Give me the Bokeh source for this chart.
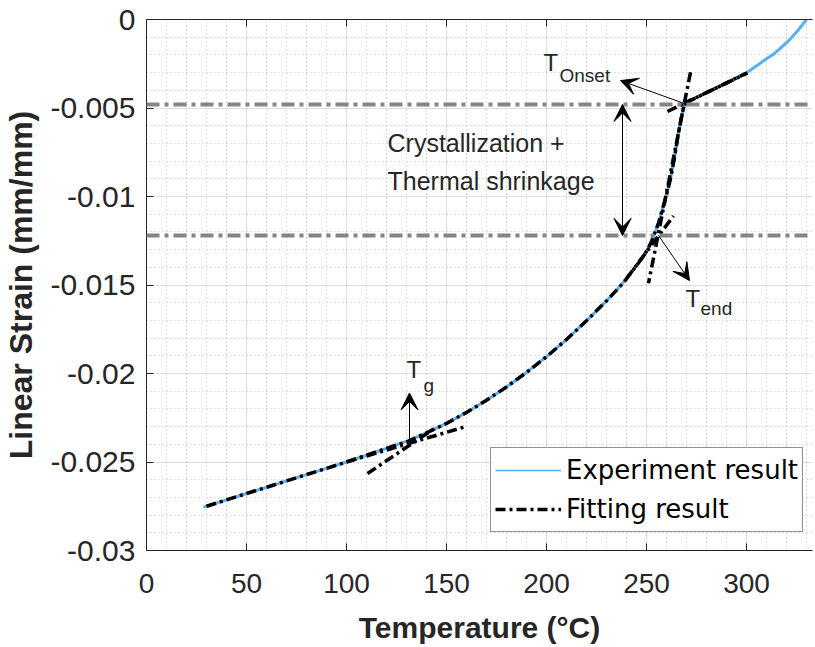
import numpy as np
from bokeh.plotting import figure
from bokeh.models import (Range1d, FixedTicker, LinearAxis, Arrow, VeeHead, Label,
                          Span, Legend, LegendItem)
from bokeh.embed import file_html
from bokeh.resources import INLINE

# ---------------- data ----------------
exp_T = [28.5, 40, 50, 60, 70, 80, 90, 100, 110, 120, 131, 140, 150, 160, 170, 180,
         190, 200, 210, 220, 230, 237, 240, 244, 248, 250.5, 252.5, 254, 256, 258,
         260, 262, 264, 266, 267.5, 268.7, 270, 272, 276, 280, 285, 290, 295, 300,
         306, 310, 314, 318, 322, 326, 330]
exp_S = [-0.02755, -0.02714, -0.02678, -0.02643, -0.02607, -0.02571, -0.02536,
         -0.0250, -0.02462, -0.02423, -0.02379, -0.02335, -0.02282, -0.02220,
         -0.02151, -0.02076, -0.01994, -0.01905, -0.01808, -0.01702, -0.0159,
         -0.01505, -0.01465, -0.01405, -0.01345, -0.0130, -0.01255, -0.0121,
         -0.0115, -0.0107, -0.0099, -0.0090, -0.0078, -0.0064, -0.0055, -0.00495,
         -0.00468, -0.00456, -0.00435, -0.00413, -0.00386, -0.00358, -0.0033,
         -0.00301, -0.00254, -0.00222, -0.00192, -0.00152, -0.00109, -0.00058, 0.0]

fit_T = [30, 40, 50, 60, 70, 80, 90, 100, 110, 120, 131, 140, 150, 160, 170, 180,
         190, 200, 210, 220, 230, 237, 240, 244, 248, 250.5, 252.5, 254, 256, 258,
         260, 262, 264, 266, 267.5, 268.7, 270, 272, 276, 280, 285, 290, 295, 300]
fit_S = [-0.0275, -0.02714, -0.02678, -0.02643, -0.02607, -0.02571, -0.02536,
         -0.0250, -0.02462, -0.02423, -0.02382, -0.02335, -0.02282, -0.02220,
         -0.02151, -0.02076, -0.01994, -0.01905, -0.01808, -0.01702, -0.0159,
         -0.01505, -0.01465, -0.01405, -0.01345, -0.0130, -0.01255, -0.0121,
         -0.0115, -0.0107, -0.0099, -0.0090, -0.0078, -0.0064, -0.0055, -0.0049,
         -0.00466, -0.00456, -0.00435, -0.00413, -0.00386, -0.00358, -0.0033,
         -0.00303]

# tangent lines of the fit
glassy_T = [100, 159.5]
glassy_S = [-0.0250, -0.0230]
rubbery_T = [110.5, 145]
rubbery_S = [-0.02565, -0.02303]
steep_T = [272, 251]
steep_S = [-0.00298, -0.0149]
onset_T = [260.5, 300.5]
onset_S = [-0.0052, -0.00302]
end_T = [240, 263.5]
end_S = [-0.01463, -0.0111]

onset_level = -0.0048
end_level = -0.0122

x_ticks = [0, 50, 100, 150, 200, 250, 300]
x_tick_labels = ["0", "50", "100", "150", "200", "250", "300"]
y_ticks = [0, -0.005, -0.01, -0.015, -0.02, -0.025, -0.03]
y_tick_labels = ["0", "-0.005", "-0.01", "-0.015", "-0.02", "-0.025", "-0.03"]

# ---------------- figure ----------------
FONT = "Liberation Sans"
AX = "#262626"

p = figure(frame_width=666, frame_height=531,
           x_range=Range1d(0, 333), y_range=Range1d(-0.03, 0),
           output_backend="svg", toolbar_location=None,
           min_border_left=146, min_border_top=19, min_border_right=3,
           min_border_bottom=90)
p.outline_line_color = None
p.background_fill_color = "white"

x_minor = [v for v in np.arange(0, 340, 10) if v % 50 != 0]
y_minor = [-v / 1000 for v in range(0, 31) if v % 5 != 0]
xt = FixedTicker(ticks=x_ticks, minor_ticks=x_minor)
yt = FixedTicker(ticks=y_ticks, minor_ticks=y_minor)

for ax, tk, labs, vals in ((p.xaxis[0], xt, x_tick_labels, x_ticks),
                           (p.yaxis[0], yt, y_tick_labels, y_ticks)):
    ax.ticker = tk
    ax.major_label_overrides = {v: l for v, l in zip(vals, labs)}
    ax.major_tick_in = 7
    ax.major_tick_out = 0
    ax.minor_tick_line_color = None
    ax.axis_line_color = AX
    ax.major_tick_line_color = AX
    ax.major_label_text_color = AX
    ax.major_label_text_font = FONT
    ax.axis_label_text_font = FONT
    ax.axis_label_text_font_style = "bold"
    ax.axis_label_text_color = AX

p.xaxis.major_label_text_font_size = "28px"
p.yaxis.major_label_text_font_size = "30px"
p.xaxis.axis_label_text_font_size = "30px"
p.yaxis.axis_label_text_font_size = "32px"
p.xaxis.axis_label = "Temperature (°C)"
p.yaxis.axis_label = "Linear Strain (mm/mm)"
p.xaxis.major_label_standoff = 19
p.xaxis.axis_label_standoff = 15
p.yaxis.major_label_standoff = 7
p.yaxis.axis_label_standoff = 8

top = LinearAxis(ticker=xt, major_tick_in=7, major_tick_out=0,
                 minor_tick_line_color=None, axis_line_color=AX,
                 major_tick_line_color=AX, major_label_text_color=None,
                 major_label_text_font_size="8px", major_label_standoff=0)
p.add_layout(top, "above")

for g, tk in ((p.xgrid[0], xt), (p.ygrid[0], yt)):
    g.ticker = tk
    g.grid_line_color = AX
    g.grid_line_alpha = 0.15
    g.minor_grid_line_color = AX
    g.minor_grid_line_alpha = 0.3
    g.minor_grid_line_dash = "1 3"

# horizontal reference levels
for lv in (onset_level, end_level):
    p.add_layout(Span(location=lv, dimension="width", line_color="#858585",
                      line_width=4, line_dash="13 5 4 5"))

# curves
BLUE = "#5aaef2"
dash = "10 4 3 4"
# thin copy used as the legend glyph (fully covered by the thick line)
leg_exp = p.line(exp_T, exp_S, line_color=BLUE, line_width=1.5)
p.line(exp_T, exp_S, line_color=BLUE, line_width=3)
r_fit = p.line(fit_T, fit_S, line_color="black", line_width=3.5, line_dash=dash)
for tx, ty in ((glassy_T, glassy_S), (rubbery_T, rubbery_S), (steep_T, steep_S),
               (onset_T, onset_S), (end_T, end_S)):
    p.line(tx, ty, line_color="black", line_width=3.5, line_dash=dash)

# arrows
def arrow(x0, y0, x1, y1, both=False):
    head = dict(size=17, fill_color="black", line_color="black", line_width=1)
    a = Arrow(end=VeeHead(**head), start=VeeHead(**head) if both else None,
              x_start=x0, y_start=y0, x_end=x1, y_end=y1,
              line_color="black", line_width=1)
    p.add_layout(a)

arrow(131.5, -0.0239, 131.5, -0.0211)
arrow(269, -0.00475, 237, -0.00345)
arrow(256, -0.0122, 271.5, -0.01475)
arrow(238, end_level, 238, onset_level, both=True)

def label(x, y, t, size):
    p.add_layout(Label(x=x, y=y, text=t, text_font=FONT, text_font_size=size,
                       text_color=AX, text_baseline="alphabetic", text_align="left"))

label(120.5, -0.0070, "Crystallization +", "25px")
label(120.5, -0.0091, "Thermal shrinkage", "25px")
label(198.5, -0.00243, "T", "24px")
label(206.5, -0.00317, "Onset", "19px")
label(269.5, -0.01576, "T", "24px")
label(277, -0.01633, "end", "19px")
label(130, -0.01978, "T", "24px")
label(138.5, -0.02067, "g", "19px")

legend = Legend(items=[LegendItem(label="Experiment result", renderers=[leg_exp]),
                       LegendItem(label="Fitting result", renderers=[r_fit])],
                location=(344, 18))
legend.label_text_font = "DejaVu Sans"
legend.label_text_font_size = "26px"
legend.label_text_color = "black"
legend.glyph_width = 66
legend.glyph_height = 36
legend.label_height = 36
legend.spacing = 3
legend.padding = 4
legend.margin = 0
legend.label_standoff = 5
legend.border_line_color = AX
legend.border_line_width = 1
legend.background_fill_alpha = 1
p.add_layout(legend)

open("out.html", "w").write(file_html(p, INLINE))
